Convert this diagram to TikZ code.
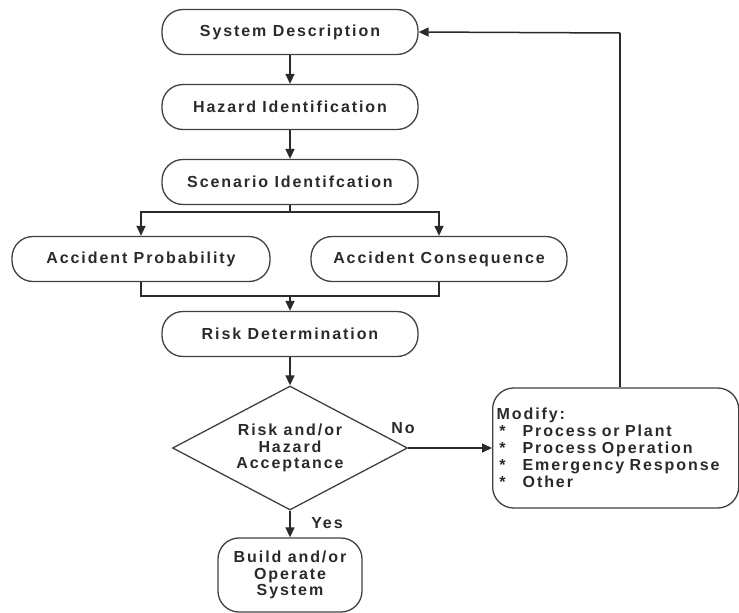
\documentclass[tikz,border=0pt]{standalone}
\usepackage{fontspec}
\setmainfont{Liberation Sans}[LetterSpace=12]
\usetikzlibrary{shapes.geometric,arrows.meta}
\definecolor{ink}{HTML}{2A2A2A}
\definecolor{edge}{HTML}{404040}
\newcommand{\bulletitem}[1]{\makebox[26pt][l]{\,*}#1}
\begin{document}
\begin{tikzpicture}[x=1pt,y=-1pt,
  every node/.style={font=\fontsize{16}{17}\selectfont\bfseries, text=ink},
  procbox/.style={draw=edge, line width=1.3pt, rounded corners=21pt, minimum height=45pt, inner sep=0pt},
  link/.style={draw=ink, line width=1.5pt},
  arr/.style={link, -{Triangle[length=10pt,width=9pt]}}]
\useasboundingbox (0,0) rectangle (739,613);

\node[procbox, minimum width=256pt] (sys) at (290,32) {System Description};
\node[procbox, minimum width=256pt] (haz) at (290,107) {Hazard Identification};
\node[procbox, minimum width=256pt] (scn) at (290,182) {Scenario Identifcation};
\node[procbox, minimum width=258pt] (prob) at (141,259) {Accident Probability};
\node[procbox, minimum width=256pt] (cons) at (439,259) {Accident Consequence};
\node[procbox, minimum width=256pt] (risk) at (290,334) {Risk Determination};
\node[draw=edge, line width=1.3pt, diamond, aspect=1.9, minimum width=235pt, minimum height=124pt, inner sep=0pt, align=center, font=\fontsize{16}{16.5}\selectfont\bfseries] (acc) at (290,448) {Risk and/or\\Hazard\\Acceptance};
\node[procbox, minimum width=246pt, minimum height=120pt, align=left, anchor=west, text width=238pt, inner xsep=4pt, font=\fontsize{16}{17}\selectfont\bfseries] (mod) at (492,448) {Modify:\\\bulletitem{Process or Plant}\\\bulletitem{Process Operation}\\\bulletitem{Emergency Response}\\\bulletitem{Other}};
\node[procbox, minimum width=144pt, minimum height=74pt, align=center, font=\fontsize{16}{16.5}\selectfont\bfseries] (bld) at (290,575) {Build and/or\\Operate\\System};

\coordinate (split) at (290,212);
\coordinate (merge) at (290,296);
\coordinate (back) at (620,33);

\draw[arr] (sys) -- (haz);
\draw[arr] (haz) -- (scn);
\draw[link] (scn.south) -- (split);
\draw[arr] (split) -| (prob.north);
\draw[arr] (split) -| (cons.north);
\draw[link] (prob.south) |- (merge);
\draw[link] (cons.south) |- (merge);
\draw[arr] (merge) -- (risk.north);
\draw[arr] (risk) -- (acc.north);
\draw[arr] (acc.east) -- (mod.west);
\node (no) at (403,428) {No};
\draw[arr] (acc.south) -- (bld.north);
\node (yes) at (327,523) {Yes};
\draw[link] (mod.north -| back) -- (back);
\draw[arr] (back) -- (sys.east);
\end{tikzpicture}
\end{document}
